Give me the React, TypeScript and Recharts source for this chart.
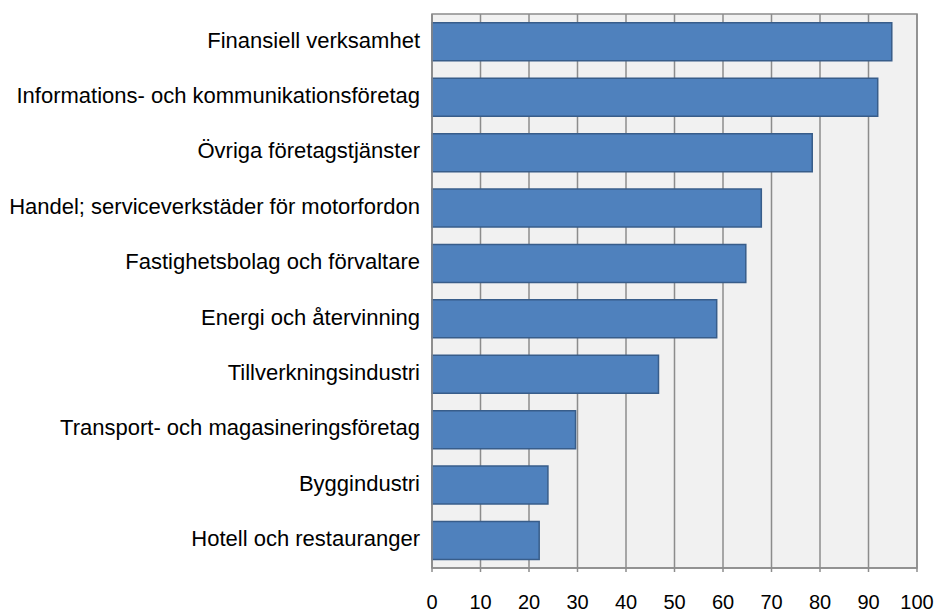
import React from "react";
import { BarChart, Bar, XAxis, YAxis, CartesianGrid, ReferenceArea } from "recharts";

const categories = [
  "Finansiell verksamhet",
  "Informations- och kommunikationsföretag",
  "Övriga företagstjänster",
  "Handel; serviceverkstäder för motorfordon",
  "Fastighetsbolag och förvaltare",
  "Energi och återvinning",
  "Tillverkningsindustri",
  "Transport- och magasineringsföretag",
  "Byggindustri",
  "Hotell och restauranger",
];
const values = [94.8, 91.9, 78.4, 67.9, 64.7, 58.7, 46.7, 29.6, 23.9, 22.1];
const xTicks = [0, 10, 20, 30, 40, 50, 60, 70, 80, 90, 100];

const data = categories.map((name, i) => ({ name, value: values[i] }));

const FONT = "'Liberation Sans', Arial, sans-serif";
const GRID = "#8c8c8c";

export default function App() {
  return (
    <div style={{ position: "absolute", left: 0, top: 0, width: 937, height: 612, background: "#fff" }}>
      <BarChart
        width={937}
        height={612}
        data={data}
        layout="vertical"
        margin={{ top: 14, right: 20, bottom: 0, left: 0 }}
        barCategoryGap="16%"
      >
        <CartesianGrid horizontal={false} vertical={true} stroke={GRID} strokeWidth={1.5} fill="#f1f1f1" />
        <ReferenceArea x1={0} x2={100} fill="none" stroke={GRID} strokeWidth={1.5} ifOverflow="visible" />
        <XAxis
          type="number"
          domain={[0, 100]}
          ticks={xTicks}
          interval={0}
          height={44}
          tickSize={4}
          tickMargin={23}
          axisLine={{ stroke: GRID, strokeWidth: 1.5 }}
          tickLine={{ stroke: GRID, strokeWidth: 1.5 }}
          tick={{ fill: "#000", fontSize: 20, fontFamily: FONT }}
        />
        <YAxis
          type="category"
          dataKey="name"
          width={432}
          interval={0}
          tickSize={0}
          tickMargin={12}
          tickLine={false}
          axisLine={{ stroke: GRID, strokeWidth: 1.5 }}
          tick={{ fill: "#000", fontSize: 22, fontFamily: FONT, dy: -2 }}
        />
        <Bar dataKey="value" fill="#4f81bd" stroke="#385d8a" strokeWidth={1.5} isAnimationActive={false} />
      </BarChart>
    </div>
  );
}
